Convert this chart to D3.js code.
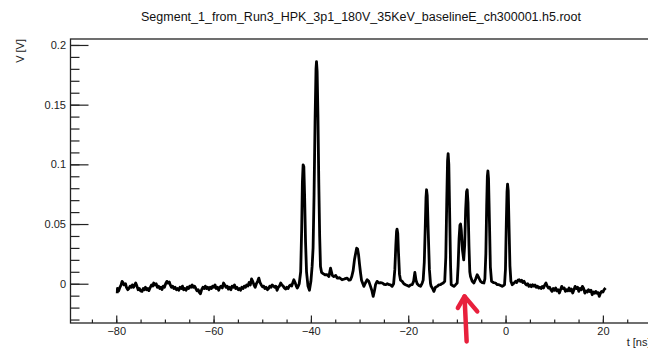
<!DOCTYPE html>
<html>
<head>
<meta charset="utf-8">
<script src="https://cdn.jsdelivr.net/npm/d3@7"></script>
<style>
  body { margin: 0; background: #fff; }
  svg { display: block; font-family: "Liberation Sans", Arial, sans-serif; }
</style>
</head>
<body>
<div id="graf"></div>
<script>
// datos: [t (ns), V (V)]
const waveform = [
  // linea base izquierda
  [-79.8,-0.008],[-79.75,-0.004],[-79.5,-0.006],[-79.25,-0.003],[-79.0,-0.001],[-78.8,0.002],[-78.6,0.001],[-78.4,-0.001],
  [-78.1,0.0],[-77.9,-0.003],[-77.65,-0.005],[-77.4,-0.004],[-77.15,-0.002],[-76.9,-0.003],[-76.7,-0.001],[-76.45,-0.003],
  [-76.2,-0.001],[-76.0,0.0006],[-75.75,-0.002],[-75.5,-0.005],[-75.25,-0.004],[-75.0,-0.006],[-74.7,-0.0064],[-74.45,-0.004],
  [-74.2,-0.005],[-74.0,-0.003],[-73.75,-0.005],[-73.5,-0.004],[-73.3,-0.0058],[-73.0,-0.003],[-72.75,-0.001],[-72.5,-0.002],
  [-72.3,0.0006],[-72.05,-0.001],[-71.8,0.0],[-71.55,-0.003],[-71.3,-0.002],[-71.05,-0.004],[-70.8,-0.003],[-70.6,-0.0048],
  [-70.35,-0.002],[-70.1,-0.003],[-69.85,0.0],[-69.6,0.002],[-69.35,0.0005],[-69.1,0.0015],[-68.9,-0.001],[-68.65,-0.003],
  [-68.4,-0.002],[-68.15,-0.004],[-67.9,-0.003],[-67.65,-0.005],[-67.4,-0.004],[-67.15,-0.0055],[-66.9,-0.003],[-66.65,-0.004],
  [-66.4,-0.002],[-66.15,-0.005],[-65.9,-0.004],[-65.65,-0.0055],[-65.4,-0.003],[-65.15,-0.004],[-64.9,-0.002],[-64.65,-0.003],
  [-64.4,-0.001],[-64.15,-0.003],[-63.9,-0.002],[-63.65,-0.004],[-63.4,-0.006],[-63.15,-0.005],[-62.9,-0.0075],[-62.7,-0.0084],
  [-62.45,-0.005],[-62.2,-0.003],[-61.95,-0.004],[-61.7,-0.002],[-61.45,-0.004],[-61.2,-0.003],[-60.95,-0.005],[-60.7,-0.003],
  [-60.45,-0.004],[-60.2,-0.002],[-59.95,-0.003],[-59.7,-0.001],[-59.45,-0.004],[-59.2,-0.003],[-58.95,-0.0055],[-58.7,-0.003],
  [-58.45,-0.002],[-58.2,-0.0035],[-57.95,0.0006],[-57.7,-0.001],[-57.45,-0.003],[-57.2,-0.002],[-56.95,-0.0045],[-56.7,-0.003],
  [-56.45,-0.005],[-56.2,-0.002],[-55.95,-0.003],[-55.7,-0.001],[-55.45,-0.004],[-55.2,-0.003],[-54.95,-0.005],[-54.7,-0.004],
  [-54.45,-0.0055],[-54.2,-0.003],[-53.95,-0.004],[-53.7,-0.002],[-53.45,-0.003],[-53.2,-0.001],[-52.95,-0.002],[-52.7,0.001],
  [-52.45,-0.001],[-52.2,0.004],[-51.95,0.002],[-51.7,-0.001],[-51.45,-0.003],[-51.2,0.0],[-50.95,0.002],[-50.7,0.0047],
  [-50.45,0.001],[-50.2,-0.001],[-49.95,-0.0025],[-49.7,-0.002],[-49.45,-0.004],[-49.2,-0.003],[-48.95,-0.005],[-48.7,-0.004],
  [-48.45,-0.002],[-48.2,-0.003],[-47.95,-0.001],[-47.7,-0.002],[-47.45,-0.003],[-47.2,-0.002],[-46.95,-0.0055],[-46.7,-0.003],
  [-46.45,-0.002],[-46.2,0.0006],[-45.95,-0.001],[-45.7,-0.002],[-45.45,-0.0035],[-45.2,-0.0045],[-44.95,-0.003],[-44.7,-0.004],
  [-44.45,-0.002],[-44.2,-0.001],[-43.95,-0.002],[-43.7,0.001],[-43.5,0.0033],[-43.25,0.001],[-43.0,-0.002],[-42.8,-0.0036],
  [-42.6,-0.002],[-42.4,0.0],
  // picos 1 y 2
  [-42.1,0.01],[-41.9,0.045],[-41.75,0.085],[-41.6,0.0996],[-41.45,0.098],[-41.3,0.075],[-41.1,0.035],[-40.9,0.01],
  [-40.6,-0.002],[-40.3,-0.0055],[-40.0,0.002],[-39.75,0.0145],[-39.55,0.03],[-39.35,0.075],[-39.15,0.135],[-38.95,0.18],
  [-38.85,0.186],[-38.72,0.178],[-38.55,0.14],[-38.38,0.085],[-38.2,0.04],[-38.03,0.0145],[-37.8,0.0095],[-37.5,0.0085],
  [-37.1,0.0075],[-36.66,0.0075],[-36.3,0.006],[-35.97,0.013],[-35.6,0.007],[-35.29,0.006],[-34.9,0.007],[-34.6,0.0047],
  [-34.1,0.005],[-33.6,0.0033],[-33.1,0.004],[-32.55,0.0047],[-32.2,0.003],[-31.87,0.0033],[-31.6,0.006],[-31.32,0.011],
  [-31.05,0.02],[-30.83,0.025],[-30.6,0.0298],[-30.4,0.029],[-30.2,0.024],[-30.0,0.016],[-29.8,0.009],[-29.6,0.003],
  [-29.12,-0.0022],[-28.8,0.0006],[-28.44,0.0033],[-28.1,0.002],[-27.75,-0.0022],[-27.45,-0.006],[-27.2,-0.0106],[-26.95,-0.006],
  [-26.72,-0.0008],[-26.4,0.002],[-26.0,0.0006],[-25.69,0.001],[-25.3,0.0006],[-24.95,-0.0006],[-24.66,-0.0008],[-24.3,0.0],
  [-23.9,-0.0008],[-23.64,-0.001],[-23.3,-0.0022],[-23.0,0.0],
  // pico 4
  [-22.75,0.012],[-22.55,0.032],[-22.4,0.044],[-22.3,0.0458],[-22.15,0.042],[-22.0,0.026],[-21.8,0.008],[-21.58,0.003],
  [-21.24,0.002],[-20.9,0.0],[-20.56,-0.0008],[-20.2,-0.0015],[-19.87,-0.0022],[-19.5,-0.001],[-19.19,-0.0008],[-18.9,0.002],
  [-18.64,0.0095],[-18.4,0.003],[-18.16,0.0],[-17.8,-0.0015],[-17.47,-0.0022],[-17.13,0.0006],[-16.93,0.003],
  // pico 5
  [-16.7,0.018],[-16.5,0.048],[-16.35,0.072],[-16.24,0.0787],[-16.1,0.074],[-15.9,0.045],[-15.65,0.012],[-15.42,0.0],
  [-15.28,-0.0022],[-15.0,-0.004],[-14.73,-0.0064],[-14.4,-0.003],[-14.05,-0.0022],[-13.7,-0.001],[-13.36,-0.0008],[-13.1,0.0],
  [-12.81,0.0006],[-12.5,0.002],
  // pico 6
  [-12.28,0.022],[-12.08,0.07],[-11.92,0.103],[-11.8,0.109],[-11.66,0.1],[-11.47,0.055],[-11.3,0.015],[-11.17,-0.0008],
  [-10.9,-0.0015],[-10.62,-0.0022],[-10.3,-0.001],[-9.94,0.0006],
  // picos 7a y 7b
  [-9.75,0.015],[-9.55,0.038],[-9.38,0.049],[-9.25,0.050],[-9.1,0.045],[-8.85,0.028],[-8.6,0.020],[-8.4,0.032],
  [-8.2,0.062],[-8.02,0.077],[-7.88,0.0787],[-7.72,0.068],[-7.52,0.032],[-7.35,0.01],[-7.2,0.006],[-6.85,0.002],
  [-6.51,0.0006],[-6.15,0.004],[-5.83,0.0075],[-5.5,0.005],[-5.14,0.002],[-4.8,0.001],[-4.45,0.0006],
  // pico 8
  [-4.25,0.004],[-4.05,0.025],[-3.88,0.065],[-3.74,0.09],[-3.63,0.0946],[-3.5,0.088],[-3.3,0.05],[-3.12,0.014],
  [-2.88,0.002],[-2.5,0.001],[-2.06,0.0006],[-1.7,-0.0008],[-1.37,-0.0008],[-1.0,-0.0015],[-0.69,-0.0022],[-0.4,-0.0015],
  [-0.21,-0.0008],
  // pico 9
  [-0.02,0.012],[0.15,0.05],[0.3,0.077],[0.41,0.0834],[0.55,0.078],[0.73,0.045],[0.9,0.015],
  // cola derecha
  [1.1,0.002],[1.37,-0.0008],[1.6,0.0],[1.85,0.001],[2.06,0.002],[2.3,0.001],[2.55,0.003],[2.8,0.0033],
  [3.05,0.002],[3.3,0.003],[3.55,0.001],[3.8,0.002],[4.05,0.0],[4.3,-0.001],[4.55,0.0],[4.8,-0.0022],
  [5.05,-0.001],[5.3,-0.0025],[5.55,-0.0008],[5.8,-0.002],[6.05,-0.001],[6.3,-0.003],[6.55,-0.002],[6.8,-0.0036],
  [7.05,-0.003],[7.3,-0.004],[7.55,-0.0022],[7.8,-0.0035],[8.05,-0.001],[8.3,0.0006],[8.55,-0.002],[8.8,-0.0036],
  [9.05,-0.003],[9.3,-0.005],[9.55,-0.0064],[9.8,-0.004],[10.05,-0.0055],[10.3,-0.0036],[10.55,-0.006],[10.8,-0.005],
  [11.05,-0.0078],[11.3,-0.005],[11.55,-0.0022],[11.8,-0.004],[12.05,-0.0035],[12.3,-0.0064],[12.55,-0.005],[12.8,-0.006],
  [13.05,-0.0036],[13.3,-0.006],[13.55,-0.0045],[13.8,-0.0078],[14.05,-0.005],[14.3,-0.0022],[14.55,-0.004],[14.8,-0.003],
  [15.05,-0.0064],[15.3,-0.004],[15.55,-0.005],[15.8,-0.0022],[16.05,-0.004],[16.3,-0.0078],[16.55,-0.006],[16.8,-0.007],
  [17.05,-0.005],[17.3,-0.0065],[17.55,-0.0055],[17.8,-0.0092],[18.05,-0.007],[18.3,-0.008],[18.55,-0.0064],[18.8,-0.008],
  [19.05,-0.0075],[19.25,-0.0106],[19.5,-0.008],[19.75,-0.0064],[20.0,-0.007],[20.25,-0.005],[20.55,-0.0036]
]

// ejes
const xDomain = [-89.4, 30.4]
const yDomain = [-0.0329, 0.205]
const xTicks = [-80, -60, -40, -20, 0, 20]
const xTickLabels = ['\u221280', '\u221260', '\u221240', '\u221220', '0', '20']
const yTicks = [0, 0.05, 0.1, 0.15, 0.2]
const yTickLabels = ['0', '0.05', '0.1', '0.15', '0.2']

const titulo = 'Segment_1_from_Run3_HPK_3p1_180V_35KeV_baselineE_ch300001.h5.root'
const xTitulo = 't [ns]'
const yTitulo = 'V [V]'

// flecha roja (en unidades de datos): punta, alas y cola
const flecha = { punta: [-8.43, -0.0106], alaIzq: [-9.8, -0.0203], alaDer: [-5.82, -0.0232], cola: [-8.0, -0.0483] }

// Configuracion de margenes
const ancho_total = 648
const alto_total = 348
const frame = { left: 70.5, right: 653.5, top: 39, bottom: 323 }

const svg = d3.select('#graf').append('svg')
  .attr('width', ancho_total)
  .attr('height', alto_total)

const x = d3.scaleLinear().domain(xDomain).range([frame.left, frame.right])
const y = d3.scaleLinear().domain(yDomain).range([frame.bottom, frame.top])

// titulo
svg.append('text')
  .attr('x', 361)
  .attr('y', 21)
  .attr('text-anchor', 'middle')
  .style('font-size', '12.5px')
  .style('fill', '#111')
  .text(titulo)

// marco
svg.append('rect')
  .attr('x', frame.left).attr('y', frame.top)
  .attr('width', frame.right - frame.left)
  .attr('height', frame.bottom - frame.top)
  .attr('fill', 'none')
  .attr('stroke', '#222')
  .attr('stroke-width', 1.3)

// ticks menores
const yMinor = d3.range(-3, 21).map(i => i / 100)
const xMinor = d3.range(-17, 7).map(i => i * 5)

svg.append('g')
  .attr('transform', `translate(${ frame.left }, 0)`)
  .call(d3.axisLeft(y).tickValues(yMinor).tickSize(-9).tickFormat(''))
svg.append('g')
  .attr('transform', `translate(0, ${ frame.bottom })`)
  .call(d3.axisBottom(x).tickValues(xMinor).tickSize(-3.5).tickFormat(''))

// ticks mayores
svg.append('g')
  .attr('transform', `translate(${ frame.left }, 0)`)
  .call(d3.axisLeft(y).tickValues(yTicks).tickSize(-18).tickPadding(4.5)
    .tickFormat((d, i) => yTickLabels[i]))
svg.append('g')
  .attr('transform', `translate(0, ${ frame.bottom })`)
  .call(d3.axisBottom(x).tickValues(xTicks).tickSize(-7.5).tickPadding(4)
    .tickFormat((d, i) => xTickLabels[i]))

svg.selectAll('.domain').remove()
svg.selectAll('.tick line').attr('stroke', '#222').attr('stroke-width', 1.2)
svg.selectAll('.tick text')
  .style('font-size', '11px')
  .style('font-family', '"Liberation Sans", Arial, sans-serif')
  .attr('fill', '#222')

// titulos de ejes (el de t queda cortado en el borde, como en la imagen)
svg.append('text')
  .attr('x', 650.5)
  .attr('y', 346)
  .attr('text-anchor', 'end')
  .style('font-size', '11px')
  .attr('fill', '#222')
  .text(xTitulo)

svg.append('text')
  .attr('transform', `translate(23.5, ${ frame.top }) rotate(-90)`)
  .attr('text-anchor', 'end')
  .style('font-size', '11px')
  .attr('fill', '#222')
  .text(yTitulo)

// forma de onda
const linea = d3.line()
  .x(d => x(d[0]))
  .y(d => y(d[1]))

svg.append('path')
  .datum(waveform)
  .attr('d', linea)
  .attr('fill', 'none')
  .attr('stroke', '#000')
  .attr('stroke-width', 2.8)
  .attr('stroke-linejoin', 'round')

// flecha
const pt = p => [x(p[0]), y(p[1])]
const flechaG = svg.append('g')
  .attr('fill', 'none')
  .attr('stroke', '#e8203c')
  .attr('stroke-width', 4.5)
  .attr('stroke-linecap', 'round')
  .attr('stroke-linejoin', 'round')
flechaG.append('path').attr('d', d3.line()([pt(flecha.cola), pt(flecha.punta)]))
flechaG.append('path').attr('d', d3.line()([pt(flecha.alaIzq), pt(flecha.punta), pt(flecha.alaDer)]))
</script>
</body>
</html>
